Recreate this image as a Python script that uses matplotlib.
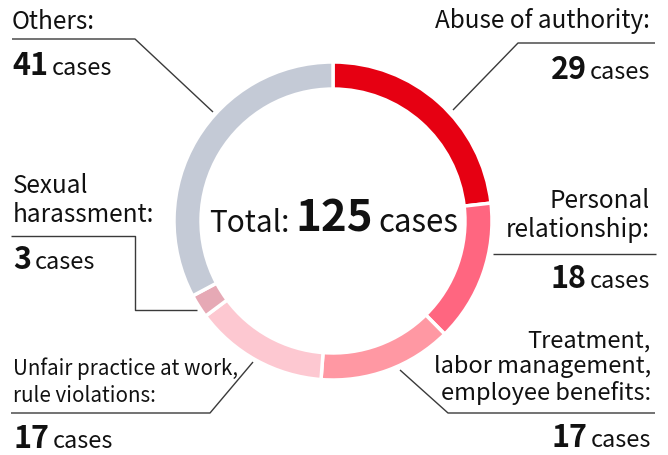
import numpy as np
import matplotlib
matplotlib.use("Agg")
import matplotlib.pyplot as plt

plt.rcParams['font.family'] = ['Noto Sans CJK JP', 'DejaVu Sans']

# data
categories = ['Abuse of authority:', 'Personal\nrelationship:',
              'Treatment,\nlabor management,\nemployee benefits:',
              'Unfair practice at work,\nrule violations:',
              'Sexual\nharassment:', 'Others:']
counts = [29, 18, 17, 17, 3, 41]
colors = ['#e60012', '#ff6680', '#ff98a3', '#fdc8d1', '#e6a9b5', '#c4cad6']
total = sum(counts)

W, H = 668, 455
fig = plt.figure(figsize=(W / 100, H / 100), dpi=100)

# donut (pixel centre 333,221, radius 159)
cx, cy, r = 333, 221, 159
pax = fig.add_axes([(cx - r) / W, (H - cy - r) / H, 2 * r / W, 2 * r / H])
pax.pie(counts, colors=colors, startangle=90, counterclock=False, radius=1,
        wedgeprops=dict(width=0.17, edgecolor='white', linewidth=2.5))
pax.set_xlim(-1, 1)
pax.set_ylim(-1, 1)
pax.set_aspect('equal')
pax.axis('off')

# overlay in pixel coords for labels and leader lines
ov = fig.add_axes([0, 0, 1, 1], zorder=5)
ov.set_xlim(0, W)
ov.set_ylim(H, 0)
ov.axis('off')
ov.patch.set_alpha(0)

renderer = fig.canvas.get_renderer()
lc = '#3a3a3a'
lw = 1.0
ink = '#111111'

# label x, last-line baseline, count baseline, alignment, label size, leader path
layout = [
    (650, 28, 79, 'right', 17.5, [(453, 110), (518, 43), (655, 43)]),
    (650, 237, 288, 'right', 17.5, [(493, 254), (656, 254)]),
    (651, 400, 447, 'right', 17, [(400, 370), (448, 413), (655, 413)]),
    (13, 402, 448, 'left', 14.8, [(253, 362), (210, 413), (11, 413)]),
    (13, 222, 269, 'left', 17.5, [(197, 310), (135, 310), (135, 236), (11, 236)]),
    (12, 29, 75, 'left', 17.5, [(213, 112), (135, 39), (12, 39)]),
]

def count_label(x, y, n, ha):
    if ha == 'left':
        t = ov.text(x, y, str(n), fontsize=22, weight='bold', ha='left',
                    va='baseline', color=ink)
        bb = t.get_window_extent(renderer)
        x2 = ov.transData.inverted().transform((bb.x1, 0))[0] + 4
        ov.text(x2, y, 'cases', fontsize=17, ha='left', va='baseline', color=ink)
    else:
        t = ov.text(x, y, 'cases', fontsize=17, ha='right', va='baseline', color=ink)
        bb = t.get_window_extent(renderer)
        x2 = ov.transData.inverted().transform((bb.x0, 0))[0] - 3
        ov.text(x2, y, str(n), fontsize=22, weight='bold', ha='right',
                va='baseline', color=ink)

for cat, n, (lx, ly, ny, ha, fs, path) in zip(categories, counts, layout):
    ov.text(lx, ly, cat, fontsize=fs, ha=ha, va='baseline', color=ink,
            linespacing=1.15 if fs > 16 else 1.3, multialignment=ha)
    count_label(lx, ny, n, ha)
    xs, ys = zip(*path)
    ov.plot(xs, ys, color=lc, lw=lw, solid_capstyle='butt')

# centre total
t1 = ov.text(209, 232, 'Total:', fontsize=21.5, ha='left', va='baseline', color=ink)
bb = t1.get_window_extent(renderer)
x2 = ov.transData.inverted().transform((bb.x1, 0))[0] + 6
t2 = ov.text(x2, 232, str(total), fontsize=31.5, weight='bold', ha='left',
             va='baseline', color=ink)
bb = t2.get_window_extent(renderer)
x3 = ov.transData.inverted().transform((bb.x1, 0))[0] + 5
ov.text(x3, 232, 'cases', fontsize=22.5, ha='left', va='baseline', color=ink)

fig.savefig('out.png', dpi=100)
